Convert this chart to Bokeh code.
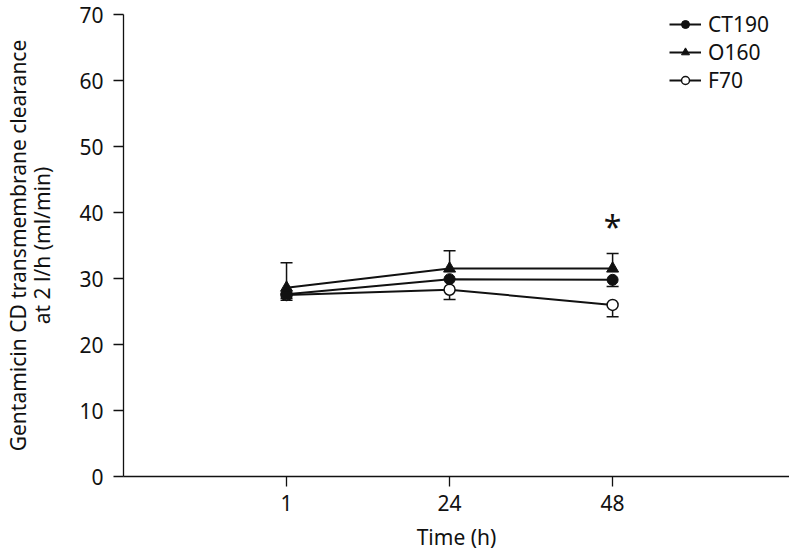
from bokeh.plotting import figure
from bokeh.models import (ColumnDataSource, Whisker, TeeHead, FixedTicker,
                          Legend, LegendItem, Range1d)
from bokeh.core.properties import value
from bokeh.embed import file_html
from bokeh.resources import INLINE

# ---- data ----
time_labels = ["1", "24", "48"]
ct190 = [27.6, 29.9, 29.8]
ct190_err_low = [0.9, 0.0, 1.0]
o160 = [28.6, 31.5, 31.5]
o160_err_up = [3.8, 2.7, 2.3]
f70 = [27.5, 28.3, 26.0]
f70_err_low = [0.5, 1.5, 1.8]
sig_label = "*"
sig_index = 2
sig_y = 38.3
y_ticks = [0, 10, 20, 30, 40, 50, 60, 70]
x_title = "Time (h)"
y_title = "Gentamicin CD transmembrane clearance\nat 2 l/h (ml/min)"

FONT = "Noto Sans"
FS = "21px"
INK = "#111111"

xpos = [i + 1 for i in range(len(time_labels))]

p = figure(width=789, height=554, output_backend="svg", toolbar_location=None,
           x_range=Range1d(0, 4.085), y_range=Range1d(0, 70),
           min_border_left=123, min_border_top=14, min_border_bottom=78,
           min_border_right=0)
p.outline_line_color = None
p.grid.visible = False
p.background_fill_color = "white"

# axes
for ax in (p.xaxis[0], p.yaxis[0]):
    ax.axis_line_color = INK
    ax.axis_line_width = 1.3
    ax.major_tick_line_color = INK
    ax.major_tick_line_width = 1.3
    ax.major_tick_out = 10
    ax.major_tick_in = 0
    ax.minor_tick_line_color = None
    ax.major_label_text_font = FONT
    ax.major_label_text_font_size = FS
    ax.major_label_text_color = INK
    ax.axis_label_text_font = FONT
    ax.axis_label_text_font_size = FS
    ax.axis_label_text_font_style = "normal"
    ax.axis_label_text_color = INK

p.xaxis.ticker = FixedTicker(ticks=xpos)
p.xaxis.major_label_overrides = {x: t for x, t in zip(xpos, time_labels)}
p.xaxis.major_label_standoff = 8
p.xaxis.axis_label = x_title
p.xaxis.axis_label_standoff = 9

p.yaxis.ticker = FixedTicker(ticks=y_ticks)
p.yaxis.major_label_standoff = 10
p.yaxis.axis_label = y_title
p.yaxis.axis_label_standoff = 20
p.yaxis.axis_label_text_line_height = 0.88

# error bars
def whisker(base, lower, upper, up_head, low_head):
    src = ColumnDataSource(dict(base=base, lower=lower, upper=upper))
    w = Whisker(source=src, base="base", lower="lower", upper="upper",
                line_color=INK, line_width=1.5,
                upper_head=TeeHead(size=12, line_color=INK, line_width=1.5) if up_head else None,
                lower_head=TeeHead(size=12, line_color=INK, line_width=1.5) if low_head else None)
    p.add_layout(w)

whisker(xpos, o160, [v + e for v, e in zip(o160, o160_err_up)], True, False)
whisker(xpos, [v - e for v, e in zip(f70, f70_err_low)], f70, False, True)
whisker(xpos, [v - e for v, e in zip(ct190, ct190_err_low)], ct190, False, True)

# series
l_f = p.line(xpos, f70, line_color=INK, line_width=2)
l_c = p.line(xpos, ct190, line_color=INK, line_width=2)
l_o = p.line(xpos, o160, line_color=INK, line_width=2)
m_f = p.scatter(xpos, f70, marker="circle", size=11, fill_color="white",
                line_color=INK, line_width=1.5)
m_c = p.scatter(xpos, ct190, marker="circle", size=11, fill_color=INK,
                line_color=INK)
m_o = p.scatter(xpos, o160, marker="triangle", size=12, fill_color=INK,
                line_color=INK)

# significance mark
p.text(x=[xpos[sig_index]], y=[sig_y], text=[sig_label],
       text_font=value(FONT), text_font_size="32px", text_color=INK,
       text_align="center", text_baseline="middle", y_offset=3)

legend = Legend(items=[
    LegendItem(label="CT190", renderers=[l_c, m_c]),
    LegendItem(label="O160", renderers=[l_o, m_o]),
    LegendItem(label="F70", renderers=[l_f, m_f]),
], location=(546, 382))
legend.border_line_color = None
legend.background_fill_alpha = 0
legend.padding = 0
legend.margin = 0
legend.spacing = 0
legend.glyph_width = 32
legend.glyph_height = 20
legend.label_height = 20
legend.label_standoff = 7
legend.label_text_font = FONT
legend.label_text_font_size = FS
legend.label_text_color = INK
p.add_layout(legend)

open("out.html", "w").write(file_html(p, INLINE))
